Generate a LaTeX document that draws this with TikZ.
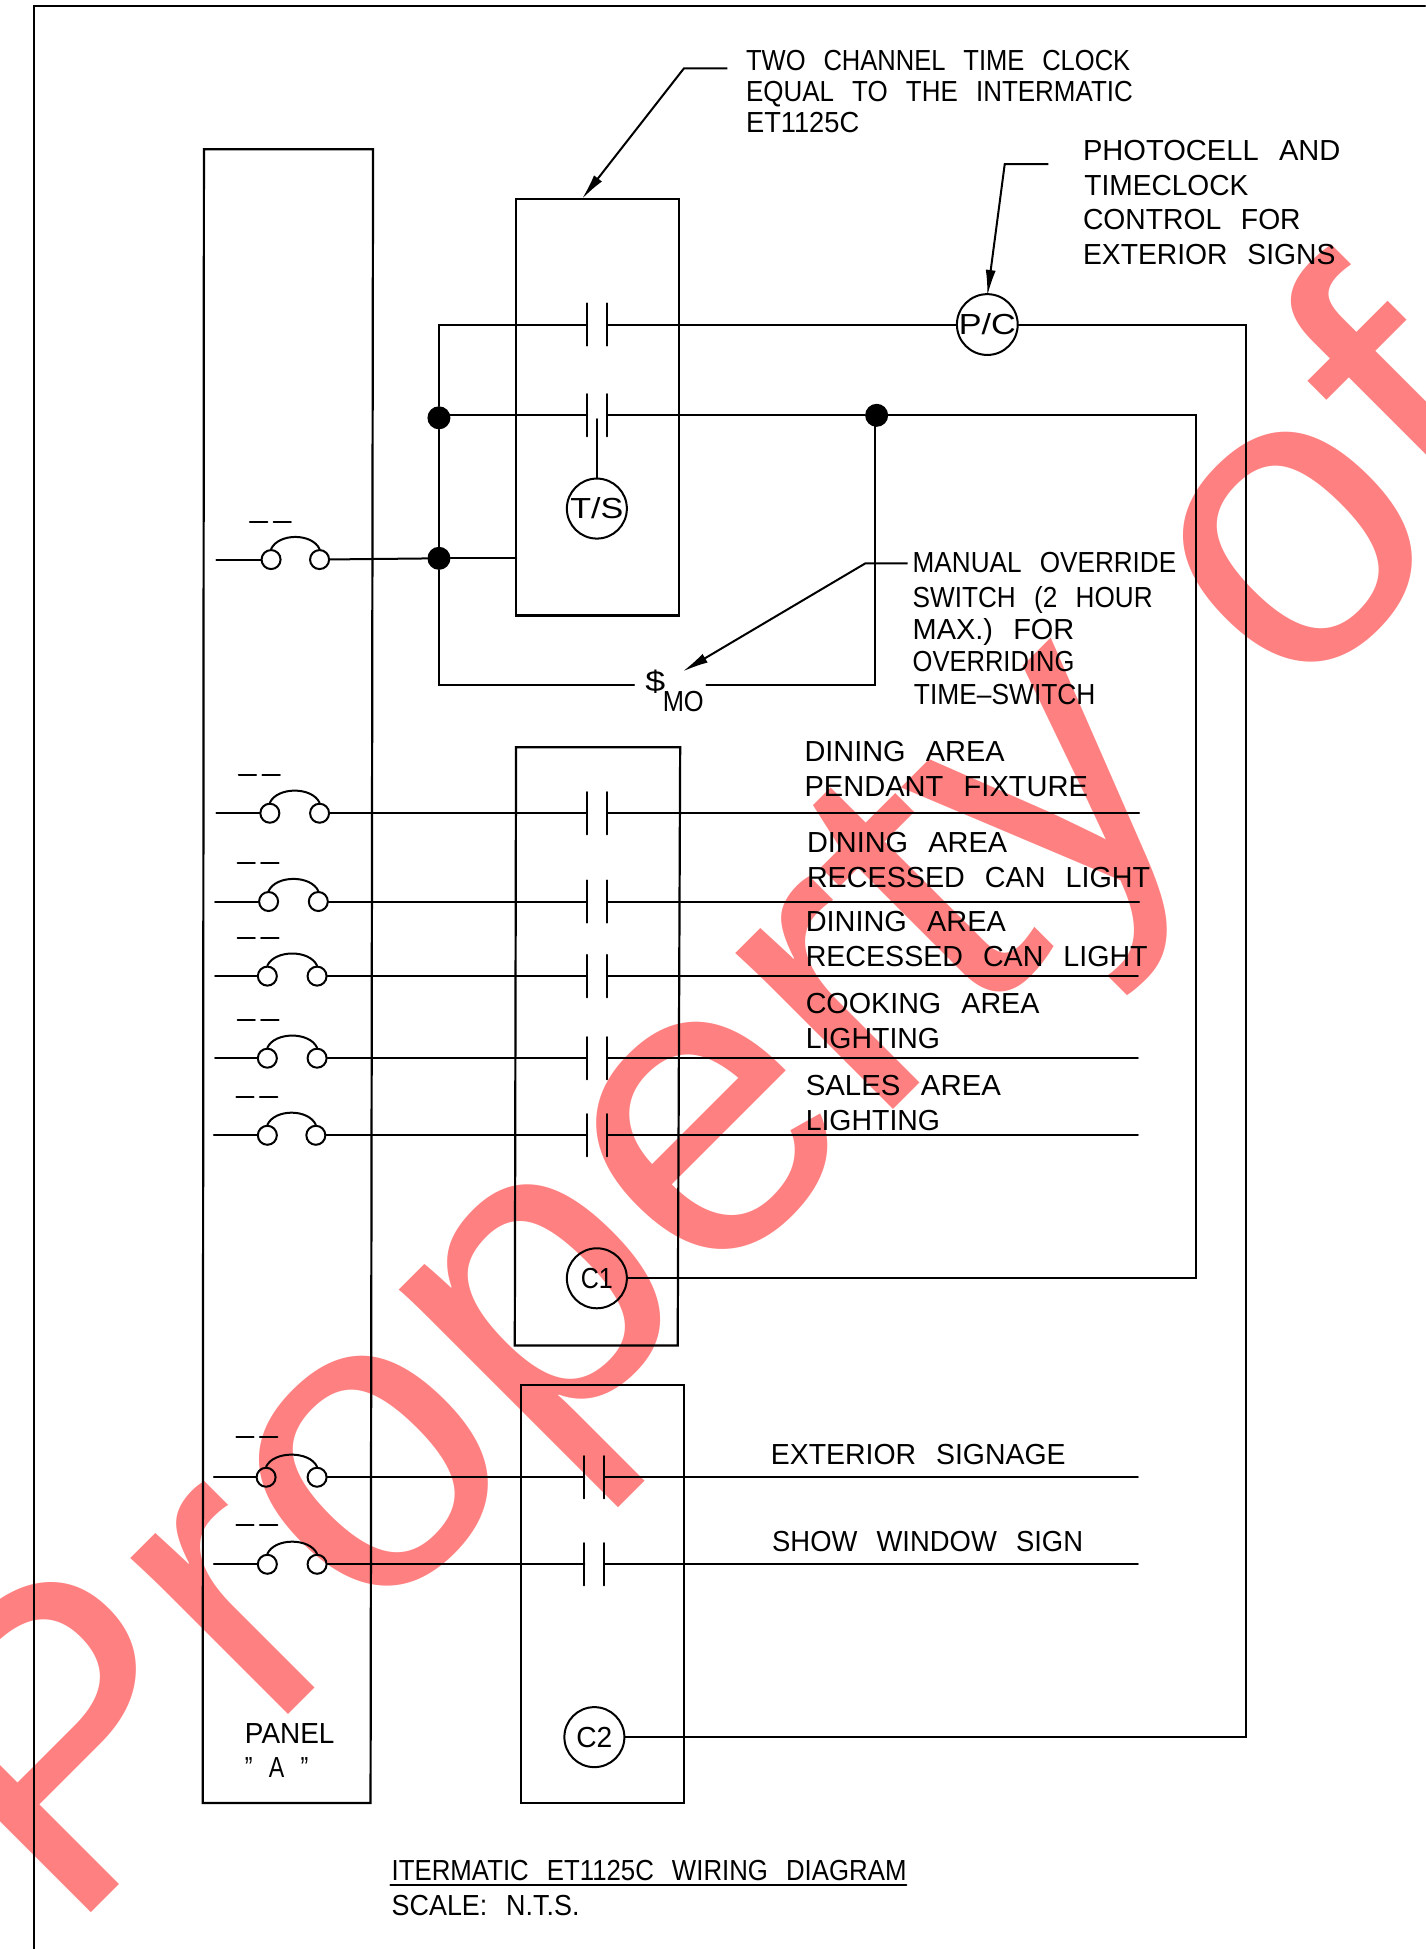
\documentclass[tikz,border=0pt]{standalone}
\usepackage{fontspec}
\setmainfont{Liberation Sans}
\usetikzlibrary{arrows.meta,calc}
\definecolor{wm}{HTML}{FF8080}
\tikzset{
  wire/.style={line width=2pt,black,line cap=round,line join=miter},
  boxline/.style={line width=2.2pt,black,line join=miter},
  lead/.style={line width=2pt,black,-{Latex[length=26pt,width=10pt]}},
  fusec/.style={circle,draw,line width=2pt,minimum size=19pt,inner sep=0pt},
  coil/.style={circle,draw,line width=2pt,minimum size=60pt,inner sep=0pt,font=\fontsize{29}{29}\selectfont},
  jdot/.style={circle,fill=black,minimum size=23pt,inner sep=0pt},
  lab/.style={anchor=base west,inner sep=0pt,outer sep=0pt,yshift=2pt,font=\fontsize{29}{29}\selectfont}
}
\newcommand{\gp}{\hspace{.7em}}
\newcommand{\lbl}[5]{\node[lab] (#1) at (#2,#3) {\resizebox{1.2435\dimexpr #4pt\relax}{\height}{#5}};}
\newcommand{\fit}[2]{\resizebox{#1pt}{\height}{#2}}
% name, wire start, circle 1, circle 2, y, dash x, dash y
\newcommand{\fuseSym}[7]{%
  \coordinate (#1s) at (#2,#5);
  \node[fusec] (#1a) at (#3,#5) {};
  \node[fusec] (#1b) at (#4,#5) {};
  \draw[wire] (#1s) -- (#1a);
  \draw[wire] (#1a.north) .. controls +(6,-13) and +(-6,-13) .. (#1b.north);
  \draw[wire] (#6,#7) -- ++(14,0);
  \draw[wire] ({#6+19},#7) -- ++(14,0);
}
% name, x, y
\newcommand{\contactSym}[3]{%
  \coordinate (#1l) at ({#2-8},#3);
  \coordinate (#1r) at ({#2+8},#3);
  \draw[wire] ({#2-8},{#3-17}) -- ({#2-8},{#3+17});
  \draw[wire] ({#2+8},{#3-17}) -- ({#2+8},{#3+17});
}
\begin{document}
\begin{tikzpicture}[x=1.2435pt,y=-1.2435pt]
\useasboundingbox (0,0) rectangle (1146,1567.4);
% watermark
\node[anchor=base west,inner sep=0pt,rotate=45,text=wm,font=\fontsize{420}{420}\selectfont] (mark) at (53,1558) {\scalebox{1.018}[1]{Property of}};
% frame
\coordinate (fa) at (1146,4.5);
\coordinate (fb) at (27.5,4.5);
\coordinate (fc) at (27.5,1567.4);
\draw[wire] (fa) -- (fb) -- (fc);
% boxes
\draw[boxline] (164,120) -- (300,120) -- (298,1450) -- (163,1450) -- cycle;
\draw[boxline] (415,160) rectangle (546,495);
\draw[boxline] (415,601) -- (547,601) -- (545,1082) -- (414,1082) -- cycle;
\draw[boxline] (419,1114) rectangle (550,1450);
% fuses
\fuseSym{fa}{174}{218}{257}{450}{201}{420}
\fuseSym{fb}{174}{217}{257}{654}{192}{623}
\fuseSym{fc}{173}{216}{256}{725}{191}{694}
\fuseSym{fd}{173}{215}{255}{785}{191}{754}
\fuseSym{fe}{173}{215}{255}{851}{191}{820}
\fuseSym{ff}{172}{215}{254}{913}{190}{882}
\fuseSym{fg}{172}{214}{255}{1188}{190}{1156}
\fuseSym{fh}{172}{215}{255}{1258}{190}{1226}
% contacts
\contactSym{ka}{480}{261}
\contactSym{kb}{480}{334}
\contactSym{kc}{480}{654}
\contactSym{kd}{480}{725}
\contactSym{ke}{480}{785}
\contactSym{kf}{480}{851}
\contactSym{kg}{480}{913}
\contactSym{kh}{478}{1188}
\contactSym{ki}{478}{1258}
% coils
\node[coil] (ts) at (480,409) {\fit{53}{T/S}};
\node[coil] (pc) at (794,261) {\fit{57}{P/C}};
\node[coil] (c1) at (480,1028) {\fit{32}{C1}};
\node[coil] (c2) at (478,1397) {\fit{36}{C2}};
% junction dots
\node[jdot] (d1) at (353,336) {};
\node[jdot] (d2) at (353,449) {};
\node[jdot] (d3) at (705,334) {};
% corner points
\coordinate (ra) at (353,261);
\coordinate (rb) at (353,551);
\coordinate (tcl) at (415,449);
\coordinate (moa) at (510,551);
\coordinate (mob) at (568,551);
\coordinate (moc) at (704,551);
\coordinate (mod) at (704,340);
\coordinate (pr) at (1002,261);
\coordinate (pb) at (1002,1397);
\coordinate (sr) at (962,334);
\coordinate (sb) at (962,1028);
\coordinate (tsv) at (480,337);
% wires, upper group
\draw[wire] (kal) -- (ra) -- (d1);
\draw[wire] (d1) -- (d2);
\draw[wire] (d2) -- (rb) -- (moa);
\draw[wire] (mob) -- (moc) -- (mod);
\draw[wire] (d1 |- kbl) -- (kbl);
\draw[wire] (kbr) -- (d3);
\draw[wire] (d3) -- (sr) -- (sb) -- (c1);
\draw[wire] (kar) -- (pc);
\draw[wire] (pc) -- (pr) -- (pb) -- (c2);
\draw[wire] (ts) -- (tsv);
\draw[wire] (fab) -- (d2);
\draw[wire] (d2) -- (tcl);
% wires, lighting group
\coordinate (ea) at (916,654);
\coordinate (eb) at (916,725);
\coordinate (ec) at (915,785);
\coordinate (ed) at (915,851);
\coordinate (ee) at (915,913);
\coordinate (ef) at (915,1188);
\coordinate (eg) at (915,1258);
\draw[wire] (fbb) -- (kcl); \draw[wire] (kcr) -- (ea);
\draw[wire] (fcb) -- (kdl); \draw[wire] (kdr) -- (eb);
\draw[wire] (fdb) -- (kel); \draw[wire] (ker) -- (ec);
\draw[wire] (feb) -- (kfl); \draw[wire] (kfr) -- (ed);
\draw[wire] (ffb) -- (kgl); \draw[wire] (kgr) -- (ee);
\draw[wire] (fgb) -- (khl); \draw[wire] (khr) -- (ef);
\draw[wire] (fhb) -- (kil); \draw[wire] (kir) -- (eg);
% labels
\lbl{ta}{600}{58}{309}{TWO\gp CHANNEL\gp TIME\gp CLOCK}
\lbl{tb}{600}{83}{311}{EQUAL\gp TO\gp THE\gp INTERMATIC}
\lbl{tc}{600}{108}{91}{ET1125C}
\lbl{pa}{871}{131}{207}{PHOTOCELL\gp AND}
\lbl{pb2}{872}{159}{132}{TIMECLOCK}
\lbl{pc2}{871}{186}{175}{CONTROL\gp FOR}
\lbl{pd}{871}{214}{203}{EXTERIOR\gp SIGNS}
\lbl{ma}{734}{462}{212}{MANUAL\gp OVERRIDE}
\lbl{mb}{734}{490}{193}{SWITCH\gp (2\gp HOUR}
\lbl{mc}{734}{516}{130}{MAX.)\gp FOR}
\lbl{md}{734}{542}{130}{OVERRIDING}
\lbl{me}{735}{568}{146}{TIME–SWITCH}
\lbl{da}{647}{614}{161}{DINING\gp AREA}
\lbl{db}{647}{642}{228}{PENDANT\gp FIXTURE}
\lbl{dc}{649}{687}{161}{DINING\gp AREA}
\lbl{dd}{649}{715}{276}{RECESSED\gp CAN\gp LIGHT}
\lbl{de}{648}{751}{161}{DINING\gp AREA}
\lbl{df}{648}{779}{275}{RECESSED\gp CAN\gp LIGHT}
\lbl{dg}{648}{817}{188}{COOKING\gp AREA}
\lbl{dh}{648}{845}{108}{LIGHTING}
\lbl{di}{648}{883}{157}{SALES\gp AREA}
\lbl{dj}{648}{911}{108}{LIGHTING}
\lbl{sa}{620}{1179}{237}{EXTERIOR\gp SIGNAGE}
\lbl{sb2}{621}{1249}{250}{SHOW\gp WINDOW\gp SIGN}
\lbl{pna}{197}{1404}{72}{PANEL}
\lbl{pnb}{197}{1431}{51}{”\gp A\gp ”}
\lbl{ttl}{315}{1514}{414}{ITERMATIC\gp ET1125C\gp WIRING\gp DIAGRAM}
\lbl{scl}{315}{1542}{151}{SCALE:\gp N.T.S.}
\coordinate (ula) at (314,1516);
\coordinate (ulb) at (729,1516);
\draw[wire] (ula) -- (ulb);
\lbl{dollar}{519}{558}{16}{\$}
\lbl{mosub}{533}{574}{33}{MO}
% leaders
\coordinate (la) at (585,55);
\coordinate (lb) at (550,55);
\coordinate (lc) at (468,160);
\draw[lead] (la) -- (lb) -- (lc);
\coordinate (pla) at (843,132);
\coordinate (plb) at (808,132);
\coordinate (plc) at (794,238);
\draw[lead] (pla) -- (plb) -- (plc);
\coordinate (mla) at (730,453);
\coordinate (mlb) at (696,453);
\coordinate (mlc) at (549,540);
\draw[lead] (mla) -- (mlb) -- (mlc);
\end{tikzpicture}
\end{document}
